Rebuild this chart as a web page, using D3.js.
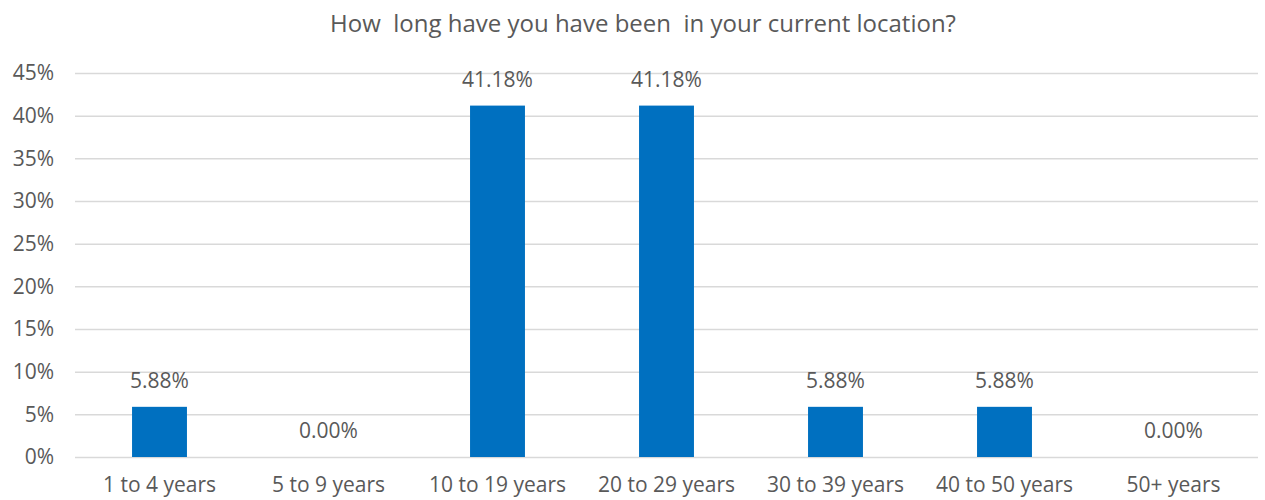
<!DOCTYPE html>
<html lang="en">
<head>
    <meta charset="UTF-8">
    <title>How long have you been in your current location?</title>
    <script src="https://cdn.jsdelivr.net/npm/d3@7"></script>
    <style>
        body { margin: 0; background: #fff; }
        text { font-family: "Open Sans", sans-serif; fill: #595959; }
    </style>
</head>
<body>
    <svg class="canvas"></svg>
    <script>
        var svg_width = 1265, svg_height = 500;

        // data
        var categories = ['1 to 4 years', '5 to 9 years', '10 to 19 years', '20 to 29 years',
                          '30 to 39 years', '40 to 50 years', '50+ years'];
        var values = [5.88, 0, 41.18, 41.18, 5.88, 5.88, 0];
        var yTicks = [0, 5, 10, 15, 20, 25, 30, 35, 40, 45];
        var title = 'How\u00a0 long have you have been\u00a0 in your current location?';

        var plotLeft = 75, plotRight = 1258, plotTop = 73, plotBottom = 457;

        var svg = d3.select('svg').attr('width', svg_width).attr('height', svg_height);

        var x = d3.scaleBand().domain(categories).range([plotLeft, plotRight]).paddingInner(0.675).paddingOuter(0.3375);
        var y = d3.scaleLinear().domain([0, 45]).range([plotBottom, plotTop]);

        svg.append('text')
            .attr('x', 643).attr('y', 32)
            .attr('text-anchor', 'middle')
            .style('font-size', '24px')
            .text(title);

        // gridlines
        svg.append('g').selectAll('line')
            .data(yTicks)
            .enter().append('line')
            .attr('x1', plotLeft).attr('x2', plotRight)
            .attr('y1', function(d) { return y(d) + 0.5; })
            .attr('y2', function(d) { return y(d) + 0.5; })
            .attr('stroke', '#d9d9d9')
            .attr('stroke-width', 1.5);

        // y axis labels
        var yAxis = d3.axisLeft(y).tickValues(yTicks).tickSize(0).tickPadding(0)
            .tickFormat(function(d) { return d + '%'; });
        var gy = svg.append('g').attr('transform', 'translate(54,0)').call(yAxis);
        gy.select('.domain').remove();
        gy.selectAll('text').style('font-size', '21px').style('font-family', '"Open Sans", sans-serif').attr('fill', '#595959');

        // x axis labels
        var xAxis = d3.axisBottom(x).tickSize(0).tickPadding(0);
        var gx = svg.append('g').attr('transform', 'translate(0,477)').call(xAxis);
        gx.select('.domain').remove();
        gx.selectAll('text').style('font-size', '21px').style('font-family', '"Open Sans", sans-serif').attr('fill', '#595959');

        // bars
        svg.append('g').selectAll('rect')
            .data(values)
            .enter().append('rect')
            .attr('x', function(d, i) { return x(categories[i]); })
            .attr('width', x.bandwidth())
            .attr('y', function(d) { return y(d); })
            .attr('height', function(d) { return y(0) - y(d); })
            .attr('fill', '#0070c0');

        // value labels
        svg.append('g').selectAll('text')
            .data(values)
            .enter().append('text')
            .attr('x', function(d, i) { return x(categories[i]) + x.bandwidth() / 2; })
            .attr('y', function(d) { return y(d) - 19; })
            .attr('text-anchor', 'middle')
            .style('font-size', '21px')
            .text(function(d) { return d.toFixed(2) + '%'; });
    </script>
</body>
</html>
